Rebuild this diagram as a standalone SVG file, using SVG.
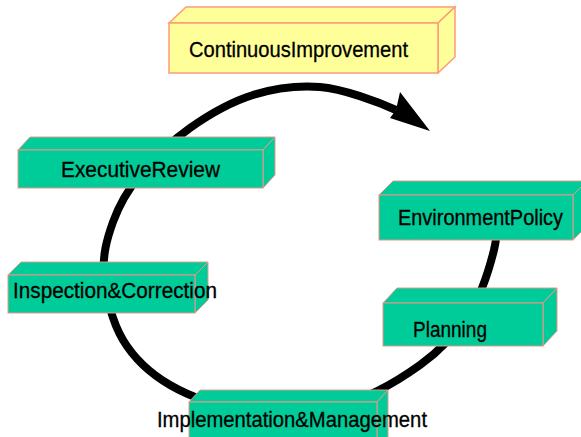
<svg xmlns="http://www.w3.org/2000/svg" width="581" height="437" viewBox="0 0 581 437">
<style>
.g{fill:#00CC99;stroke:#E8968A;stroke-width:1}
.y{fill:#FFFF99;stroke:#FF9A7A;stroke-width:1.5}
.t{font-family:"Liberation Sans",Arial,sans-serif;font-size:22px;fill:#000;stroke:#000;stroke-width:0.3}
.ring{fill:none;stroke:#000;stroke-width:8;stroke-linecap:butt}
</style>
<rect width="581" height="437" fill="#fff"/>
<g id="connectors">
<path class="ring" d="M498,200 C497.3,208.3 498.7,231.3 494,250 C489.3,268.7 482.3,292.8 470,312 C457.7,331.2 441.7,349.5 420,365 C398.3,380.5 370,397.8 340,405 C310,412.2 268.3,411.3 240,408 C211.7,404.7 189.5,396.3 170,385 C150.5,373.7 134,358.3 123,340 C112,321.7 105.7,294.7 104,275 C102.3,255.3 107,238.7 113,222 C119,205.3 127.2,190.7 140,175 C152.8,159.3 171.2,141.3 190,128 C208.8,114.7 231.3,101.8 253,95 C274.7,88.2 297.2,85.3 320,87 C342.8,88.7 378.3,102 396,110"/>
<polygon points="400,92 430,131 390,118 396,110" fill="#000"/>
</g>
<g id="continuous-improvement">
<polygon class="y" points="169,23 186,7 455,7 438,23"/>
<polygon class="y" points="438,23 455,7 455,57 438,73"/>
<rect class="y" x="169" y="23" width="269" height="50"/>
<text class="t" x="189" y="57" textLength="219" lengthAdjust="spacingAndGlyphs">ContinuousImprovement</text>
</g>
<g id="executive-review">
<polygon class="g" points="18,150 30,137 275,137 263,150"/>
<polygon class="g" points="263,150 275,137 275,175 263,188"/>
<rect class="g" x="18" y="150" width="245" height="38"/>
<text class="t" x="61" y="177" textLength="159" lengthAdjust="spacingAndGlyphs">ExecutiveReview</text>
</g>
<g id="environment-policy">
<polygon class="g" points="379,195 393,181 587,181 573,195"/>
<polygon class="g" points="573,195 587,181 587,226 573,240"/>
<rect class="g" x="379" y="195" width="194" height="45"/>
<text class="t" x="398" y="225" textLength="165" lengthAdjust="spacingAndGlyphs">EnvironmentPolicy</text>
</g>
<g id="inspection-correction">
<polygon class="g" points="8,275 21,262 208,262 195,275"/>
<polygon class="g" points="195,275 208,262 208,300 195,313"/>
<rect class="g" x="8" y="275" width="187" height="38"/>
<text class="t" x="13" y="298" textLength="204" lengthAdjust="spacingAndGlyphs">Inspection&amp;Correction</text>
</g>
<g id="planning">
<polygon class="g" points="383,303 397,288 557,288 543,303"/>
<polygon class="g" points="543,303 557,288 557,331 543,346"/>
<rect class="g" x="383" y="303" width="160" height="43"/>
<text class="t" x="413" y="337" textLength="74" lengthAdjust="spacingAndGlyphs">Planning</text>
</g>
<g id="implementation-management">
<polygon class="g" points="189,402 200,390 388,390 377,402"/>
<polygon class="g" points="377,402 388,390 388,440 377,452"/>
<rect class="g" x="189" y="402" width="188" height="50"/>
<text class="t" x="157" y="427" textLength="270" lengthAdjust="spacingAndGlyphs">Implementation&amp;Management</text>
</g>
</svg>
